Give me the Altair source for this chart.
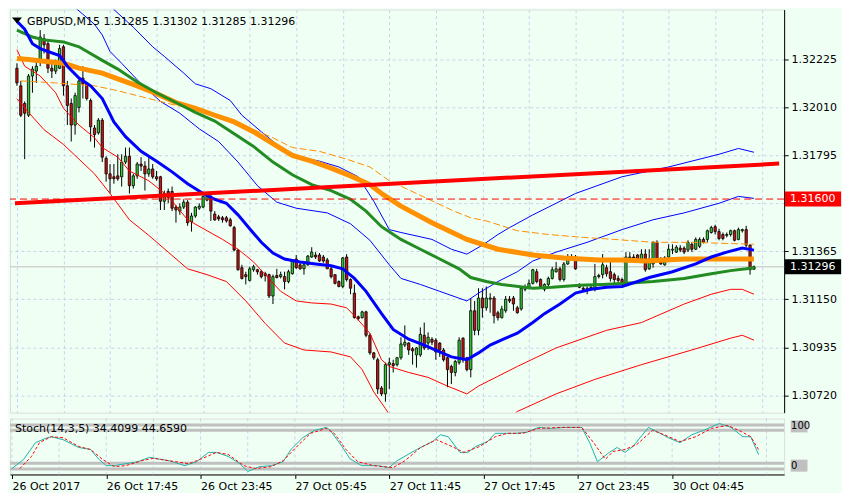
import altair as alt
import pandas as pd

POINT = 1e-5
W = 776
H_MAIN = 404
H_STOCH = 56
BG = "#F0FFF4"
GRID = "#C8D2EC"
BULL = "#33CC33"
BEAR = "#CC1111"
FONT = "DejaVu Sans"

# ---------------- candles (prices in points, 1 point = 0.00001) ----------------
OPEN = [
    132187, 132108, 132029, 131976, 132152, 132174, 132218, 132319, 132297, 132187,
    132174, 132187, 132283, 132108, 132029, 131932, 132011, 132143, 132117, 132042,
    131919, 131897, 131954, 131783, 131713, 131700, 131704, 131700, 131766, 131792,
    131660, 131704, 131757, 131748, 131713, 131735, 131700, 131700, 131590, 131634,
    131634, 131564, 131546, 131564, 131586, 131498, 131524, 131559, 131564, 131595,
    131612, 131533, 131520, 131516, 131516, 131507, 131472, 131371, 131292, 131261,
    131235, 131283, 131283, 131274, 131265, 131261, 131165, 131257, 131252, 131252,
    131230, 131265, 131331, 131305, 131287, 131305, 131340, 131349, 131349, 131340,
    131327, 131287, 131261, 131230, 131208, 131340, 131239, 131178, 131072, 131068,
    131094, 130989, 130910, 130879, 130752, 130726, 130857, 130862, 130857, 130888,
    130945, 130954, 130928, 130901, 130901, 130989, 130954, 130971, 130967, 130954,
    130923, 130888, 130849, 130822, 130866, 130976, 130888, 130835, 131099, 131011,
    131156, 131112, 131151, 131156, 131090, 131068, 131099, 131151, 131156, 131112,
    131107, 131195, 131200, 131222, 131274, 131239, 131195, 131217, 131244, 131274,
    131287, 131239, 131309, 131340, 131340, 131217, 131200, 131195, 131200, 131195,
    131252, 131261, 131292, 131274, 131261, 131244, 131239, 131222, 131336, 131340,
    131349, 131331, 131353, 131287, 131309, 131406, 131331, 131305, 131340, 131371,
    131362, 131380, 131380, 131371, 131397, 131375, 131388, 131419, 131419, 131450,
    131476, 131454, 131441, 131437, 131441, 131458, 131419, 131458, 131463, 131393,
    131285,
]
HIGH = [
    132209, 132130, 132038, 132161, 132196, 132226, 132358, 132340, 132314, 132209,
    132226, 132292, 132292, 132130, 132051, 132077, 132143, 132196, 132125, 132051,
    131932, 131963, 131963, 131792, 131757, 131757, 131801, 131801, 131831, 131831,
    131713, 131766, 131788, 131770, 131788, 131757, 131726, 131704, 131638, 131647,
    131656, 131573, 131581, 131599, 131595, 131538, 131568, 131581, 131616, 131625,
    131621, 131546, 131529, 131524, 131524, 131516, 131480, 131375, 131305, 131274,
    131296, 131305, 131287, 131283, 131274, 131265, 131261, 131287, 131274, 131274,
    131283, 131331, 131349, 131314, 131318, 131349, 131384, 131362, 131358, 131349,
    131336, 131296, 131261, 131235, 131340, 131353, 131244, 131217, 131077, 131099,
    131099, 130998, 130914, 130888, 130761, 130866, 130888, 130879, 130892, 130980,
    131033, 130958, 130936, 130936, 131024, 131046, 131002, 130980, 130976, 130958,
    130932, 130892, 130857, 130879, 130980, 130980, 130892, 131156, 131143, 131200,
    131200, 131208, 131178, 131165, 131099, 131121, 131165, 131165, 131165, 131121,
    131208, 131217, 131239, 131287, 131287, 131244, 131222, 131252, 131296, 131318,
    131296, 131318, 131353, 131353, 131349, 131222, 131208, 131208, 131213, 131309,
    131265, 131353, 131305, 131331, 131270, 131257, 131248, 131362, 131362, 131353,
    131353, 131375, 131375, 131375, 131410, 131415, 131340, 131344, 131397, 131397,
    131393, 131393, 131388, 131415, 131406, 131428, 131428, 131428, 131463, 131480,
    131485, 131467, 131450, 131450, 131463, 131463, 131472, 131467, 131480, 131397,
    131302,
]
LOW = [
    132108, 131968, 131779, 131968, 132077, 132121, 132196, 132253, 132165, 132143,
    132161, 132183, 132064, 131932, 131858, 131889, 131989, 132051, 132042, 131858,
    131831, 131889, 131766, 131678, 131625, 131669, 131682, 131656, 131757, 131625,
    131647, 131691, 131726, 131638, 131700, 131691, 131682, 131551, 131551, 131581,
    131546, 131494, 131529, 131555, 131480, 131454, 131516, 131551, 131559, 131590,
    131502, 131502, 131502, 131494, 131494, 131476, 131366, 131279, 131239, 131217,
    131230, 131274, 131261, 131244, 131230, 131156, 131129, 131244, 131244, 131195,
    131222, 131261, 131287, 131283, 131261, 131301, 131336, 131331, 131318, 131314,
    131287, 131244, 131217, 131204, 131200, 131230, 131173, 131064, 131055, 131064,
    130980, 130901, 130879, 130726, 130717, 130691, 130748, 130822, 130849, 130879,
    130936, 130901, 130857, 130844, 130892, 130923, 130923, 130945, 130879, 130892,
    130871, 130756, 130770, 130805, 130857, 130866, 130827, 130800, 130989, 130989,
    131068, 131099, 131090, 131042, 131055, 131064, 131090, 131134, 131099, 131086,
    131099, 131186, 131195, 131217, 131222, 131200, 131186, 131208, 131239, 131270,
    131230, 131230, 131305, 131327, 131283, 131200, 131191, 131173, 131191, 131186,
    131244, 131244, 131252, 131230, 131222, 131226, 131217, 131217, 131327, 131327,
    131322, 131318, 131274, 131283, 131292, 131318, 131305, 131301, 131331, 131353,
    131358, 131362, 131353, 131362, 131362, 131371, 131380, 131401, 131406, 131445,
    131441, 131415, 131415, 131428, 131432, 131410, 131415, 131450, 131384, 131261,
    131285,
]
CLOSE = [
    132121, 131976, 131985, 132152, 132183, 132196, 132327, 132292, 132187, 132174,
    132204, 132275, 132108, 132020, 131932, 132064, 132130, 132117, 132051, 131924,
    131889, 131954, 131788, 131713, 131691, 131691, 131691, 131766, 131792, 131660,
    131704, 131757, 131748, 131713, 131735, 131700, 131691, 131590, 131625, 131608,
    131559, 131551, 131564, 131586, 131494, 131524, 131564, 131568, 131612, 131612,
    131546, 131507, 131511, 131507, 131502, 131480, 131371, 131283, 131244, 131252,
    131287, 131296, 131274, 131252, 131257, 131165, 131252, 131248, 131261, 131230,
    131274, 131327, 131292, 131287, 131305, 131344, 131362, 131340, 131322, 131322,
    131287, 131252, 131222, 131208, 131336, 131239, 131200, 131068, 131064, 131094,
    130989, 130910, 130888, 130748, 130726, 130857, 130866, 130853, 130888, 130950,
    130958, 130923, 130919, 130932, 130993, 130932, 130980, 130958, 130914, 130923,
    130879, 130835, 130822, 130871, 130967, 130879, 130835, 131099, 131011, 131156,
    131112, 131156, 131156, 131077, 131068, 131107, 131151, 131143, 131129, 131090,
    131200, 131204, 131222, 131283, 131230, 131208, 131217, 131244, 131283, 131287,
    131239, 131309, 131340, 131331, 131287, 131204, 131195, 131200, 131204, 131252,
    131257, 131305, 131265, 131244, 131239, 131235, 131226, 131340, 131340, 131336,
    131331, 131353, 131283, 131331, 131406, 131327, 131309, 131336, 131375, 131375,
    131384, 131371, 131362, 131406, 131375, 131419, 131419, 131406, 131458, 131472,
    131454, 131423, 131423, 131441, 131458, 131415, 131463, 131463, 131393, 131283,
    131296,
]

# ---------------- indicator lines (bar index, price in points) ----------------
BLUE_MA_I = [0, 2, 4, 6, 8, 11, 13, 16, 19, 22, 25, 28, 32, 36, 40, 44, 48, 51, 54, 57,
             60, 63, 66, 69, 73, 77, 81, 84, 87, 90, 94, 97, 101, 105, 109, 112, 116, 119,
             122, 126, 129, 133, 136, 140, 144, 148, 152, 156, 160, 163, 169, 175, 179,
             183, 187, 190]
BLUE_MA_V = [132398, 132362, 132297, 132275, 132262, 132244, 132196, 132143, 132108, 132051,
             131946, 131880, 131814, 131770, 131722, 131669, 131625, 131599, 131581, 131529,
             131467, 131406, 131358, 131331, 131318, 131309, 131301, 131287, 131244, 131186,
             131086, 131015, 130971, 130945, 130914, 130892, 130879, 130910, 130945, 130976,
             130998, 131046, 131086, 131129, 131178, 131195, 131204, 131208, 131230, 131248,
             131274, 131309, 131340, 131362, 131380, 131371]

GREEN_MA_I = [0, 4, 7, 12, 16, 22, 26, 31, 36, 41, 46, 51, 56, 61, 66, 71, 76, 81, 86, 90,
              94, 99, 104, 109, 114, 117, 121, 125, 133, 138, 145, 151, 157, 164, 172, 179,
              184, 188, 190]
GREEN_MA_V = [132358, 132327, 132314, 132305, 132283, 132222, 132183, 132125, 132077, 132033,
              131989, 131950, 131893, 131836, 131766, 131709, 131665, 131638, 131599, 131546,
              131476, 131419, 131375, 131331, 131287, 131248, 131230, 131217, 131200, 131204,
              131213, 131217, 131222, 131230, 131244, 131265, 131279, 131287, 131292]

ORANGE_MA_I = [0, 3, 7, 12, 16, 22, 26, 31, 36, 41, 46, 51, 56, 61, 66, 71, 76, 81, 86, 91,
               94, 99, 107, 116, 124, 133, 141, 150, 156, 162, 172, 182, 190]
ORANGE_MA_V = [132231, 132226, 132218, 132209, 132187, 132165, 132139, 132108, 132073, 132033,
               132007, 131976, 131946, 131902, 131849, 131796, 131770, 131739, 131704, 131665,
               131625, 131568, 131494, 131419, 131375, 131349, 131336, 131327, 131327, 131322,
               131331, 131331, 131331]

ORANGE_THIN_I = [1, 10, 20, 26, 31, 36, 41, 46, 51, 60, 66, 71, 78, 85, 91, 96, 103, 112, 117,
                 121, 129, 137, 146, 154, 164, 174, 190]
ORANGE_THIN_V = [132130, 132121, 132108, 132086, 132064, 132042, 132020, 132007, 131976, 131919,
                 131875, 131831, 131814, 131779, 131744, 131682, 131625, 131551, 131516, 131502,
                 131458, 131441, 131428, 131419, 131406, 131406, 131397]

BLUE_BAND_A_I = [13, 15, 20, 22, 24, 27, 32, 37, 42, 47, 52, 57, 62, 67, 72, 80, 86, 91, 96,
                 99, 104, 109, 116, 119, 124, 129, 133, 139, 147, 156, 164, 172, 181, 186, 190]
BLUE_BAND_A_V = [132481, 132459, 132384, 132336, 132262, 132209, 132117, 132038, 131985, 131915,
                 131858, 131766, 131660, 131586, 131559, 131538, 131489, 131415, 131305, 131244,
                 131217, 131186, 131143, 131178, 131230, 131274, 131322, 131362, 131406, 131463,
                 131507, 131538, 131581, 131612, 131603]

BLUE_BAND_B_I = [24, 25, 30, 35, 38, 43, 46, 50, 55, 58, 63, 68, 73, 78, 83, 88, 92, 96, 99,
                 107, 112, 116, 120, 124, 127, 133, 139, 144, 156, 168, 181, 186, 190]
BLUE_BAND_B_V = [132472, 132450, 132371, 132283, 132240, 132165, 132117, 132095, 132042, 131976,
                 131902, 131831, 131788, 131770, 131744, 131700, 131590, 131463, 131450, 131419,
                 131375, 131353, 131393, 131441, 131472, 131529, 131581, 131625, 131700, 131744,
                 131801, 131827, 131810]

RED_BAND_A_I = [0, 2, 6, 10, 12, 16, 20, 22, 26, 29, 34, 39, 44, 49, 53, 57, 61, 64, 68, 72,
                76, 81, 85, 87, 91, 94, 96, 101, 106, 111, 116, 119, 124, 129, 139, 152, 161,
                172, 179, 184, 187, 190]
RED_BAND_A_V = [132270, 132196, 132152, 132077, 132007, 131932, 131875, 131831, 131788, 131726,
                131682, 131612, 131507, 131458, 131419, 131375, 131318, 131261, 131186, 131143,
                131134, 131129, 131112, 131077, 130998, 130879, 130849, 130822, 130800, 130761,
                130726, 130761, 130805, 130849, 130932, 131011, 131046, 131129, 131173, 131195,
                131195, 131173]

RED_BAND_B_I = [0, 3, 7, 12, 16, 20, 24, 29, 34, 39, 44, 49, 54, 59, 64, 69, 74, 81, 86, 89,
                92, 95, 97, 104, 114, 124, 129, 139, 149, 161, 174, 184, 187, 190]
RED_BAND_B_V = [132051, 131989, 131911, 131845, 131779, 131713, 131625, 131507, 131437, 131362,
                131287, 131261, 131230, 131143, 131042, 130954, 130923, 130914, 130892, 130835,
                130735, 130660, 130607, 130528, 130493, 130572, 130647, 130726, 130791, 130857,
                130923, 130976, 130989, 130967]

TREND_I = [-0.5, 196.5]
TREND_V = [131581, 131759]
LEVEL_PRICE = 131600
BID_PRICE = 131296

# ---------------- stochastic ----------------
STOCH_K_I = [0, 3, 6, 9, 10, 13, 17, 20, 22, 24, 26, 29, 32, 35, 37, 40, 44, 47, 50, 52,
             55, 58, 60, 63, 66, 69, 71, 74, 77, 80, 81, 84, 86, 89, 93, 96, 98, 103, 107,
             109, 111, 114, 116, 118, 121, 123, 125, 128, 131, 134, 137, 141, 145, 147, 149,
             152, 154, 156, 158, 162, 165, 167, 170, 173, 176, 180, 183, 186, 188, 190]
STOCH_K_V = [6, 25, 59, 69, 71, 65, 49, 45, 26, 12, 12, 16, 20, 29, 26, 22, 12, 20, 39, 39,
             31, 16, 0, 10, 12, 20, 45, 69, 84, 90, 84, 51, 26, 12, 12, 8, 22, 45, 61, 75,
             71, 39, 39, 51, 61, 78, 78, 78, 80, 90, 88, 90, 90, 59, 20, 39, 49, 39, 51, 90,
             78, 69, 59, 75, 84, 98, 90, 71, 71, 34.4099]
STOCH_D_I = [2, 5, 7, 10, 13, 17, 20, 23, 26, 29, 33, 36, 40, 45, 48, 52, 55, 59, 62, 66,
             69, 73, 76, 80, 82, 85, 88, 92, 97, 100, 104, 108, 112, 115, 119, 123, 126, 130,
             134, 140, 145, 148, 151, 153, 156, 159, 163, 166, 170, 174, 178, 182, 185, 188,
             190]
STOCH_D_V = [6, 31, 59, 71, 69, 51, 45, 25, 10, 12, 22, 27, 22, 16, 25, 39, 35, 12, 6, 10,
             22, 55, 78, 88, 78, 45, 20, 12, 8, 22, 49, 65, 51, 39, 51, 71, 78, 78, 88, 90,
             90, 59, 25, 41, 45, 55, 84, 75, 61, 71, 88, 94, 84, 71, 44.6590]
STOCH_LEVELS = [95, 84, 17, 5]
STOCH_SCALE_LABELS = ["100", "0"]
STOCH_SCALE_LABEL_POS = [92, 12]

PRICE_TICKS = [1.30720, 1.30935, 1.31150, 1.31365, 1.31580, 1.31795, 1.32010, 1.32225]
HIDDEN_TICK = 1.31580   # label covered by the 1.31600 marker box
TIME_LABELS = ["26 Oct 2017", "26 Oct 17:45", "26 Oct 23:45", "27 Oct 05:45",
               "27 Oct 11:45", "27 Oct 17:45", "27 Oct 23:45", "30 Oct 04:45"]
BARS_PER_LABEL = 24
BARS_PER_GRID = 12

# ---------------- frames ----------------
n = len(CLOSE)
candles = pd.DataFrame({
    "i": list(range(n)),
    "o": [v * POINT for v in OPEN],
    "h": [v * POINT for v in HIGH],
    "l": [v * POINT for v in LOW],
    "c": [v * POINT for v in CLOSE],
})


def line_df(ii, vv, scale=POINT):
    return pd.DataFrame({"i": ii, "v": [v * scale for v in vv]})


x_dom = [-0.5, 196.5]
xs = alt.Scale(domain=x_dom, nice=False, zero=False)
ys = alt.Scale(domain=[1.30642, 1.32450], nice=False, zero=False)

X_MAIN = alt.X("i:Q", scale=xs, axis=alt.Axis(
    values=list(range(0, 197, BARS_PER_GRID)), labels=False, ticks=False, domain=False,
    grid=True, gridColor=GRID, gridDash=[3, 3], gridWidth=1, title=None))
Y_AXIS = alt.Axis(orient="right", values=PRICE_TICKS, title=None,
                  labelExpr="abs(datum.value - %f) < 1e-7 ? '' : format(datum.value, '.5f')" % HIDDEN_TICK,
                  tickSize=4, tickColor="black", domainColor="black", labelColor="black",
                  labelFont=FONT, labelFontSize=11, labelPadding=3, grid=True,
                  gridColor=GRID, gridDash=[3, 3], labelFlush=False)


def Yq(field):
    return alt.Y(field, type="quantitative", scale=ys, axis=Y_AXIS)


layers = []
# bid line
layers.append(alt.Chart(pd.DataFrame({"p": [BID_PRICE * POINT]})).mark_rule(
    color="#C0C0C0", strokeWidth=1).encode(y=Yq("p")))
# wicks
layers.append(alt.Chart(candles).mark_rule(color="black", strokeWidth=1, clip=True).encode(
    x=X_MAIN, y=Yq("l"), y2="h"))
# bodies
layers.append(alt.Chart(candles).mark_bar(size=2.3, stroke="black", strokeWidth=0.8,
                                          clip=True).encode(
    x=X_MAIN, y=Yq("o"), y2="c",
    fill=alt.condition("datum.c >= datum.o", alt.value(BULL), alt.value(BEAR))))


def add_line(ii, vv, color, width, dash=None):
    kw = dict(color=color, strokeWidth=width, clip=True, interpolate="linear")
    if dash:
        kw["strokeDash"] = dash
    layers.append(alt.Chart(line_df(ii, vv)).mark_line(**kw).encode(x=X_MAIN, y=Yq("v")))


add_line(BLUE_BAND_A_I, BLUE_BAND_A_V, "#0000FF", 1)
add_line(BLUE_BAND_B_I, BLUE_BAND_B_V, "#0000FF", 1)
add_line(RED_BAND_A_I, RED_BAND_A_V, "#FF0000", 1)
add_line(RED_BAND_B_I, RED_BAND_B_V, "#FF0000", 1)
add_line(ORANGE_THIN_I, ORANGE_THIN_V, "#FF8C00", 1, [7, 3])
add_line(ORANGE_MA_I, ORANGE_MA_V, "#FF9000", 5)
add_line(GREEN_MA_I, GREEN_MA_V, "#228B22", 3)
add_line(BLUE_MA_I, BLUE_MA_V, "#0000FF", 3)
add_line(TREND_I, TREND_V, "#FF0000", 4)

# 1.31600 horizontal dashed line
layers.append(alt.Chart(pd.DataFrame({"p": [LEVEL_PRICE * POINT]})).mark_rule(
    color="#FF0000", strokeWidth=1, strokeDash=[7, 4]).encode(y=Yq("p")))

# title
last = candles.iloc[-1]
title_text = f"GBPUSD,M15  {last.o:.5f} {last.h:.5f} {last.l:.5f} {last.c:.5f}"
tdf = pd.DataFrame({"t": [title_text]})
layers.append(alt.Chart(tdf).mark_point(shape="M-1,-0.6L1,-0.6L0,0.6Z", size=100,
                                        filled=True, color="black", opacity=1).encode(
    x=alt.value(7), y=alt.value(11)))
layers.append(alt.Chart(tdf).mark_text(align="left", baseline="middle", font=FONT,
                                       fontSize=11, color="black").encode(
    x=alt.value(17), y=alt.value(12), text="t:N"))

# price label boxes on right axis
boxes = pd.DataFrame({
    "p": [LEVEL_PRICE * POINT, BID_PRICE * POINT],
    "label": [f"{LEVEL_PRICE * POINT:.5f}", f"{BID_PRICE * POINT:.5f}"],
    "bg": ["#FF0000", "#000000"],
})
layers.append(alt.Chart(boxes).mark_point(shape="M-3.75,-1H3.75V1H-3.75Z", size=225,
                                          filled=True, opacity=1, strokeWidth=0).encode(
    x=alt.value(W + 29), y=Yq("p"), fill=alt.Fill("bg:N", scale=None)))
layers.append(alt.Chart(boxes).mark_text(align="left", baseline="middle", font=FONT,
                                         fontSize=11, color="white").encode(
    x=alt.value(W + 6), y=Yq("p"), text="label:N"))

main = alt.layer(*layers).properties(width=W, height=H_MAIN)

# ---------------- stochastic panel ----------------
ss = alt.Scale(domain=[-6, 108], nice=False, zero=False)
label_expr = "[" + ",".join(f"'{t}'" for t in TIME_LABELS) + "][datum.value / %d]" % BARS_PER_LABEL
X_ST = alt.X("i:Q", scale=xs, axis=alt.Axis(
    values=list(range(0, BARS_PER_LABEL * len(TIME_LABELS), BARS_PER_LABEL)),
    labelExpr=label_expr, labelAlign="left", labelFlush=False, labelOverlap=False,
    tickSize=4, tickColor="black", domainColor="black", labelColor="black",
    labelFont=FONT, labelFontSize=11, labelPadding=2, grid=False, title=None))


def Ys(field):
    return alt.Y(field, type="quantitative", scale=ss, axis=None)


st_layers = []
st_layers.append(alt.Chart(pd.DataFrame({"i": list(range(0, 197, BARS_PER_GRID))})).mark_rule(
    color=GRID, strokeDash=[3, 3], strokeWidth=1).encode(x=X_ST))
st_layers.append(alt.Chart(pd.DataFrame({"v": STOCH_LEVELS})).mark_rule(
    color="#C0C0C0", strokeWidth=3).encode(y=Ys("v")))
st_layers.append(alt.Chart(line_df(STOCH_K_I, STOCH_K_V, 1)).mark_line(
    color="#20B2AA", strokeWidth=1, clip=True).encode(x=X_ST, y=Ys("v")))
st_layers.append(alt.Chart(line_df(STOCH_D_I, STOCH_D_V, 1)).mark_line(
    color="#FF0000", strokeWidth=1, strokeDash=[3, 2], clip=True).encode(x=X_ST, y=Ys("v")))
stoch_title = f"Stoch(14,3,5) {STOCH_K_V[-1]:.4f} {STOCH_D_V[-1]:.4f}"
st_layers.append(alt.Chart(pd.DataFrame({"t": [stoch_title]})).mark_text(
    align="left", baseline="middle", font=FONT, fontSize=11, color="black").encode(
    x=alt.value(5), y=alt.value(10), text="t:N"))
slab = pd.DataFrame({"v": STOCH_SCALE_LABEL_POS, "t": STOCH_SCALE_LABELS})
st_layers.append(alt.Chart(slab).mark_point(shape="M-1.4,-1H1.4V1H-1.4Z", size=144,
                                            filled=True, color="#C0C0C0", opacity=1,
                                            strokeWidth=0).encode(
    x=alt.value(W + 15), y=Ys("v")))
st_layers.append(alt.Chart(slab).mark_text(align="left", baseline="middle", font=FONT,
                                           fontSize=10, color="black").encode(
    x=alt.value(W + 7), y=Ys("v"), text="t:N"))

stoch = alt.layer(*st_layers).properties(width=W, height=H_STOCH)

chart = alt.vconcat(main, stoch, spacing=4).properties(
    background=BG, padding={"left": 0, "top": 0, "right": 0, "bottom": 0}
).configure_view(stroke="black", strokeWidth=1).configure(font=FONT)

chart.save("out.html", embed_options={"renderer": "svg", "actions": False})
